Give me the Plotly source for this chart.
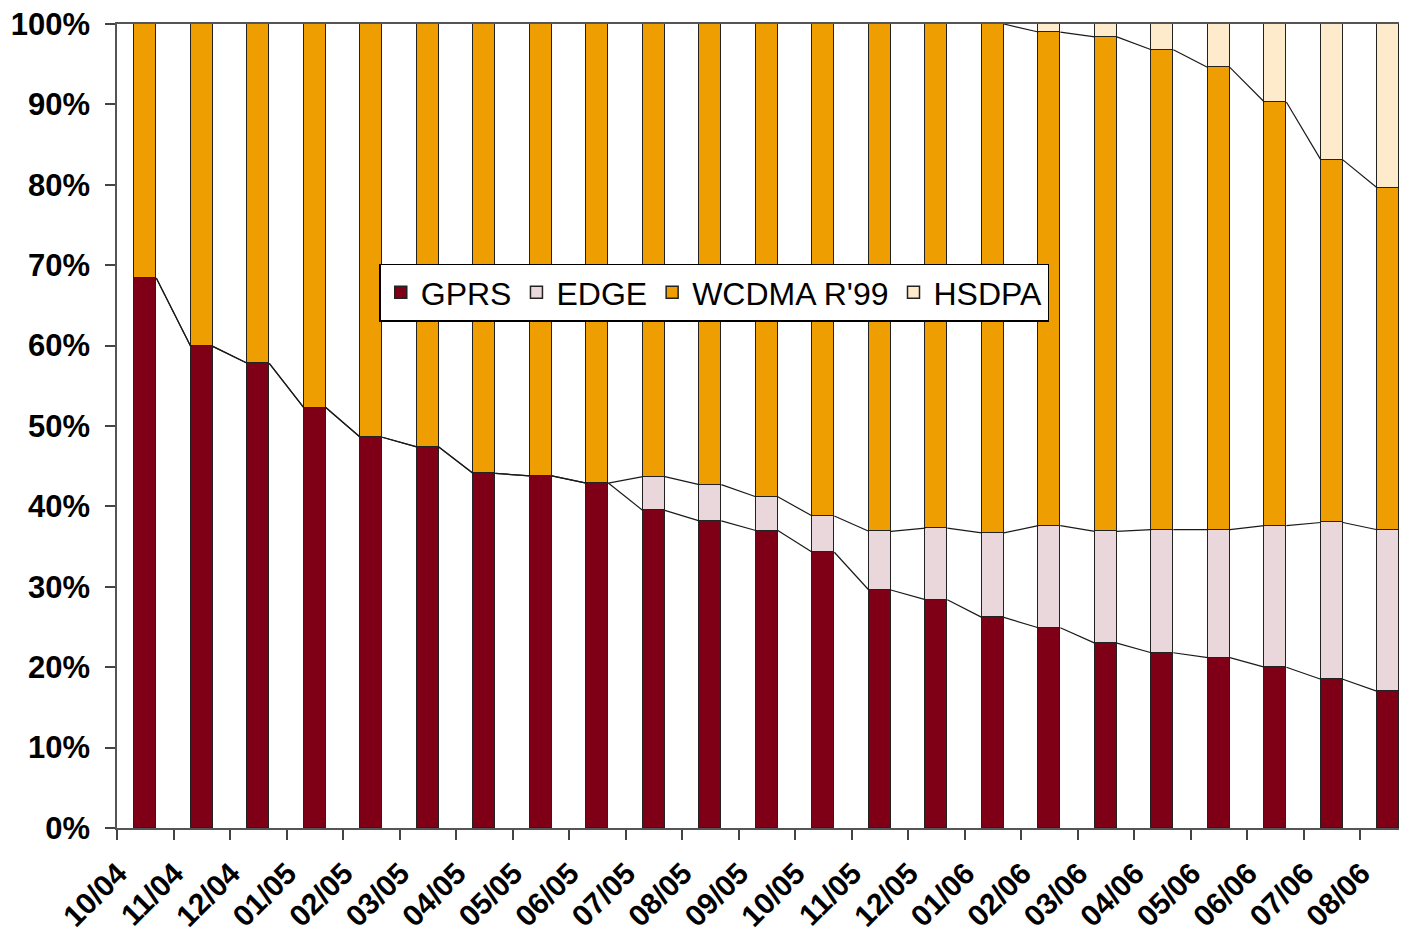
import plotly.graph_objects as go

categories = ["10/04", "11/04", "12/04", "01/05", "02/05", "03/05", "04/05", "05/05",
              "06/05", "07/05", "08/05", "09/05", "10/05", "11/05", "12/05", "01/06",
              "02/06", "03/06", "04/06", "05/06", "06/06", "07/06", "08/06"]

gprs = [68.4, 59.9, 57.8, 52.3, 48.6, 47.4, 44.1, 43.8, 42.9, 39.5, 38.2, 37.0, 34.3,
        29.6, 28.4, 26.2, 24.9, 23.0, 21.8, 21.2, 20.0, 18.5, 17.0]
edge = [0, 0, 0, 0, 0, 0, 0, 0, 0, 4.2, 4.5, 4.2, 4.5,
        7.3, 8.9, 10.5, 12.7, 13.9, 15.3, 15.9, 17.6, 19.5, 20.1]
hsdpa = [0, 0, 0, 0, 0, 0, 0, 0, 0, 0, 0, 0, 0,
         0, 0, 0, 1.0, 1.6, 3.2, 5.4, 9.7, 16.9, 20.4]
wcdma = [round(100 - g - e - h, 1) for g, e, h in zip(gprs, edge, hsdpa)]

series_names = ["GPRS", "EDGE", "WCDMA R'99", "HSDPA"]
series_values = [gprs, edge, wcdma, hsdpa]
series_colors = ["#7F0016", "#EAD7DB", "#EE9E00", "#FDEBCB"]

y_ticks = list(range(0, 101, 10))
y_labels = [f"{v}%" for v in y_ticks]

BAR_W = 0.39
x = list(range(len(categories)))

fig = go.Figure()

for name, vals, col in zip(series_names, series_values, series_colors):
    fig.add_trace(go.Bar(
        x=x, y=vals, name=name, width=BAR_W,
        marker=dict(color=col, line=dict(color="#222222", width=1.5)),
    ))

# Series lines connecting the tops of each stacked segment (Excel-style)
cum = [0.0] * len(categories)
for k, vals in enumerate(series_values[:-1]):
    cum = [c + v for c, v in zip(cum, vals)]
    lx, ly = [], []
    for i in range(len(categories) - 1):
        if cum[i] >= 99.95 and cum[i + 1] >= 99.95:
            continue
        lx += [i + BAR_W / 2, i + 1 - BAR_W / 2, None]
        ly += [cum[i], cum[i + 1], None]
    fig.add_trace(go.Scatter(
        x=lx, y=ly, mode="lines", showlegend=False, hoverinfo="skip",
        line=dict(color="#1a1a1a", width=1.2),
    ))

fig.update_layout(
    width=1407, height=934,
    margin=dict(l=109, r=8, t=16, b=114),
    barmode="stack",
    bargap=0,
    plot_bgcolor="white", paper_bgcolor="white",
    showlegend=True,
    legend=dict(
        orientation="h", traceorder="normal",
        x=0.463, y=0.666, xanchor="center", yanchor="middle",
        bgcolor="white", bordercolor="black", borderwidth=1.5,
        font=dict(family="Liberation Sans, Arial", size=32, color="black"),
        itemwidth=30,
    ),
)

fig.update_xaxes(
    range=[-0.5, 22.33],
    automargin=False,
    tickmode="array", tickvals=x, ticktext=categories,
    tickangle=-45,
    ticks="", ticklen=0,
    tickfont=dict(family="Liberation Sans, Arial", size=30, color="black", weight="bold"),
    ticklabelshift=-27, ticklabelstandoff=14,
    ticklabeloverflow="allow",
    minor=dict(tick0=-0.5, dtick=1, ticks="outside", ticklen=10, tickwidth=1.5,
               tickcolor="#444444", showgrid=False),
    showline=True, linecolor="#555555", linewidth=1.5, mirror=True,
    showgrid=False, zeroline=False, fixedrange=True,
)

fig.update_yaxes(
    range=[0, 100],
    automargin=False,
    tickmode="array", tickvals=y_ticks, ticktext=y_labels,
    ticks="outside", ticklen=10, tickwidth=1.5, tickcolor="#444444",
    ticklabelstandoff=9,
    ticklabeloverflow="allow",
    tickfont=dict(family="Liberation Sans, Arial", size=31, color="black", weight="bold"),
    showline=True, linecolor="#555555", linewidth=1.5,
    showgrid=False, zeroline=False, fixedrange=True,
)

fig.write_html("out.html")
